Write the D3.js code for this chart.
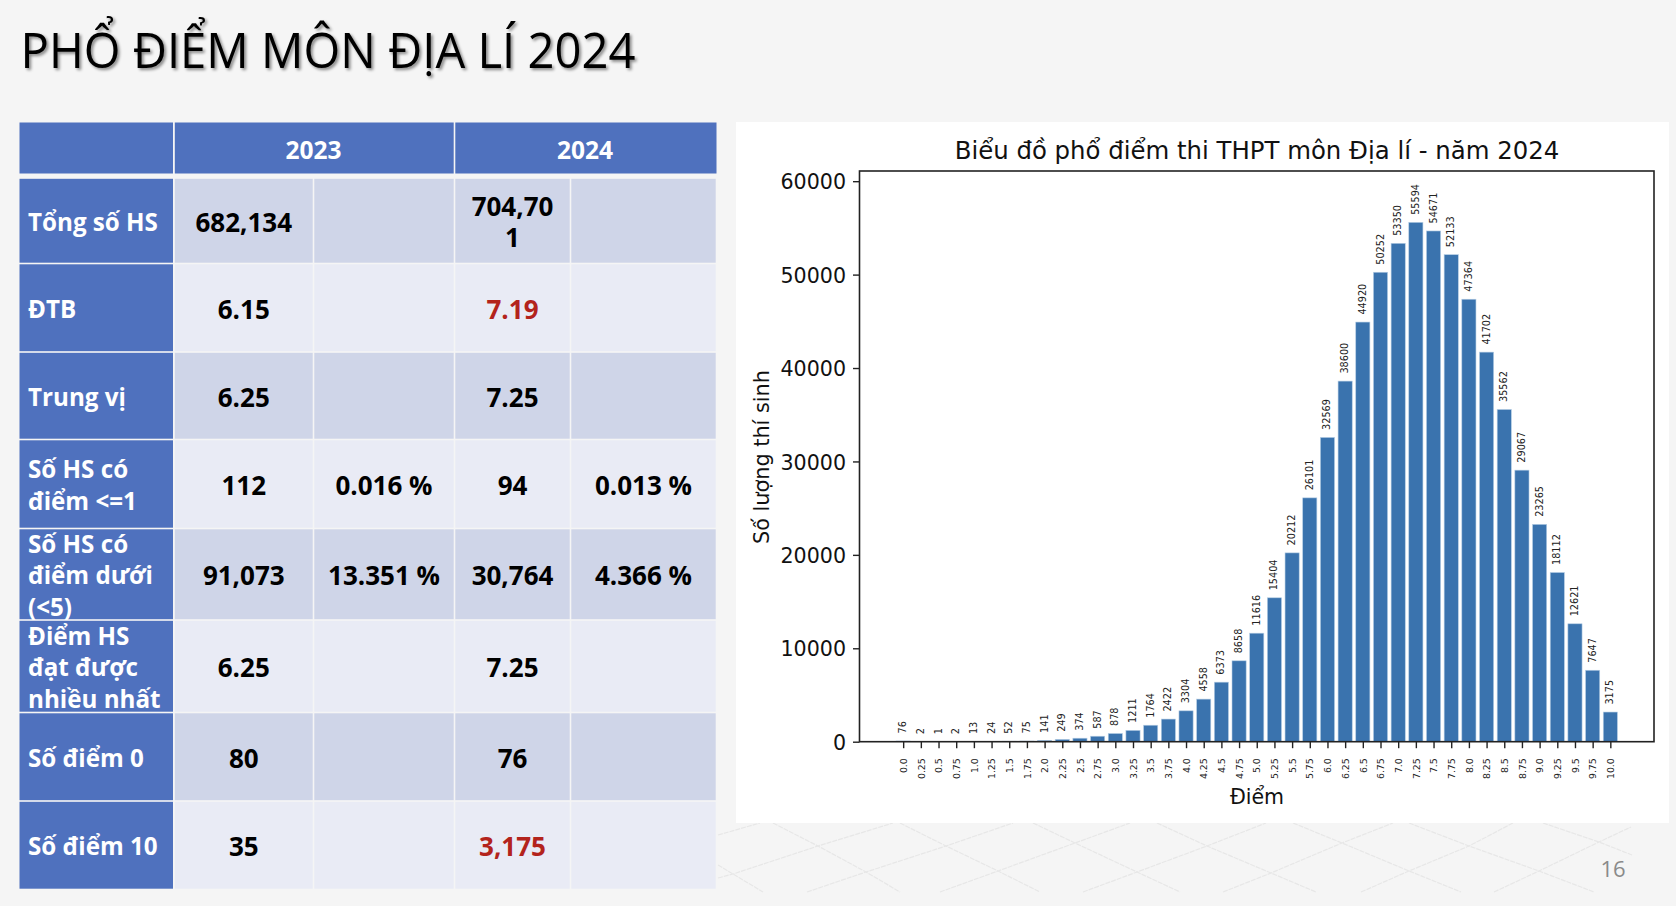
<!DOCTYPE html>
<html><head><meta charset="utf-8">
<script src="https://cdn.jsdelivr.net/npm/d3@7"></script>
<style>html,body{margin:0;background:#f5f5f5;overflow:hidden}svg{display:block}</style>
</head><body><svg id="c" width="1676" height="906"></svg>
<script>
const scores = ["0.0","0.25","0.5","0.75","1.0","1.25","1.5","1.75","2.0","2.25","2.5","2.75","3.0","3.25","3.5","3.75","4.0","4.25","4.5","4.75","5.0","5.25","5.5","5.75","6.0","6.25","6.5","6.75","7.0","7.25","7.5","7.75","8.0","8.25","8.5","8.75","9.0","9.25","9.5","9.75","10.0"];
const counts = [76,2,1,2,13,24,52,75,141,249,374,587,878,1211,1764,2422,3304,4558,6373,8658,11616,15404,20212,26101,32569,38600,44920,50252,53350,55594,54671,52133,47364,41702,35562,29067,23265,18112,12621,7647,3175];
const yTicks = [0,10000,20000,30000,40000,50000,60000];
const rowLabels = [["Tổng số HS"],["ĐTB"],["Trung vị"],["Số HS có","điểm <=1"],["Số HS có","điểm dưới","(<5)"],["Điểm HS","đạt được","nhiều nhất"],["Số điểm 0"],["Số điểm 10"]];
const val2023 = ["682,134","6.15","6.25","112","91,073","6.25","80","35"];
const pct2023 = ["","","","0.016 %","13.351 %","","",""];
const val2024 = [["704,70","1"],["7.19"],["7.25"],["94"],["30,764"],["7.25"],["76"],["3,175"]];
const pct2024 = ["","","","0.013 %","4.366 %","","",""];
const redRows2024 = [1,7];
const headers = ["2023","2024"];

const svg = d3.select("#c");
const ui = "'Open Sans','Noto Sans',sans-serif";

// faint backdrop lattice (decoration)
const lat = svg.append("g").attr("stroke","#e7e7e7").attr("stroke-width",1.2).attr("fill","none").attr("stroke-dasharray","5 1");
[[[718,878],[733,874],[818,846],[893,823]],[[807,892],[866,872],[946,846],[1013,823]],[[940,892],[998,871],[1075,843],[1130,823]],[[1083,892],[1137,872],[1207,846],[1266,823]],[[1223,892],[1271,873],[1342,843],[1393,823]],[[1361,892],[1409,871],[1469,846],[1513,823]],[[1494,892],[1539,871],[1599,842],[1631,827]],[[718,835],[760,823]],
 [[773,823],[818,846],[866,872],[900,892]],[[900,823],[946,846],[998,871],[1040,892]],[[1033,823],[1075,843],[1137,872],[1180,892]],[[1157,823],[1207,846],[1271,873],[1316,892]],[[1293,823],[1342,843],[1409,871],[1461,892]],[[1409,823],[1469,846],[1539,871],[1594,892]],[[1543,823],[1599,842],[1632,855]],[[718,865],[733,874],[763,892]]]
 .forEach(p=>lat.append("path").attr("d",d3.line()(p)));

// slide title
svg.append("text").attr("x",20.5).attr("y",68).attr("font-family",ui).attr("font-size",49)
  .attr("textLength",615).attr("lengthAdjust","spacingAndGlyphs").attr("fill","#000")
  .style("filter","drop-shadow(2px 2px 1.5px rgba(0,0,0,.45))").text("PHỔ ĐIỂM MÔN ĐỊA LÍ 2024");

// table
const colX = [19.5,174,313.5,454.5,570.5,716.5];
const rowY = [178,263.5,352,439.5,528.5,620,712.5,801,889.5];
const blue="#4f71be", dark="#cfd5e8", light="#e9ebf5";
const tb = svg.append("g").attr("font-family",ui).attr("font-weight",700).attr("font-size",26);
const cell=(x0,y0,x1,y1,f)=>tb.append("rect").attr("x",x0).attr("y",y0).attr("width",x1-x0).attr("height",y1-y0).attr("fill",f);
cell(colX[0],122.5,colX[1]-1,173.5,blue); cell(colX[1]+.8,122.5,colX[3]-.8,173.5,blue); cell(colX[3]+.8,122.5,colX[5],173.5,blue);
headers.forEach((h,i)=>tb.append("text").attr("x",i?585:313.5).attr("y",159).attr("text-anchor","middle").attr("fill","#fff").attr("font-size",24.5).text(h));
const ctext=(x,yc,lines,fill)=>{const lh=31.5;lines.forEach((l,k)=>tb.append("text").attr("x",x).attr("y",yc+10.8+(k-(lines.length-1)/2)*lh).attr("text-anchor","middle").attr("fill",fill).text(l));};
rowLabels.forEach((lab,i)=>{
  const y0=rowY[i]+.8,y1=rowY[i+1]-.8,yc=(y0+y1)/2,bg=i%2?light:dark;
  cell(colX[0],y0,colX[1]-1,y1,blue);
  for(let c=1;c<5;c++) cell(colX[c]+.8,y0,colX[c+1]-.8,y1,bg);
  lab.forEach((l,k)=>tb.append("text").attr("x",28).attr("y",yc+10.2+(k-(lab.length-1)/2)*31.5).attr("fill","#fff").attr("font-size",24.2).text(l));
  ctext((colX[1]+colX[2])/2,yc,[val2023[i]],"#000");
  if(pct2023[i]) ctext((colX[2]+colX[3])/2,yc,[pct2023[i]],"#000");
  ctext((colX[3]+colX[4])/2,yc,val2024[i],redRows2024.includes(i)?"#b3231c":"#000");
  if(pct2024[i]) ctext((colX[4]+colX[5])/2,yc,[pct2024[i]],"#000");
});

// chart panel
svg.append("rect").attr("x",736).attr("y",122).attr("width",933).attr("height",701).attr("fill","#fff");
const L=859.5,R=1654,T=171,B=741.7;
const x=d3.scalePoint().domain(scores).range([L,R]).padding(2.47);
const y=d3.scaleLinear().domain([0,61090]).range([B,T]);
const bw=x.step()*0.8;
const g=svg.append("g").attr("font-family","'DejaVu Sans',sans-serif");
g.append("g").selectAll("rect").data(counts).join("rect")
 .attr("x",(d,i)=>x(scores[i])-bw/2).attr("width",bw).attr("y",d=>y(d)).attr("height",d=>B-y(d))
 .attr("fill","#3a73ae").attr("stroke","#b5cde4").attr("stroke-width",.6);
g.append("g").selectAll("text").data(counts).join("text")
 .attr("transform",(d,i)=>`translate(${x(scores[i])+3},${y(d)-7.5}) rotate(-90)`)
 .attr("font-size",9.7).attr("fill","#222").text(d=>d);
const ax=g.append("g").attr("transform",`translate(0,${B})`).call(d3.axisBottom(x).tickSize(6.5).tickPadding(0));
ax.select(".domain").remove();
ax.selectAll(".tick line").attr("stroke","#222").attr("stroke-width",1.4);
ax.selectAll(".tick text").attr("transform","translate(3.2,16.5) rotate(-90)").attr("text-anchor","end").attr("dy",0).attr("y",0).attr("x",0).attr("font-size",9.4).attr("font-family","'DejaVu Sans',sans-serif").attr("fill","#222");
const ay=g.append("g").attr("transform",`translate(${L},0)`).call(d3.axisLeft(y).tickValues(yTicks).tickFormat(d3.format("d")).tickSize(6.5).tickPadding(7));
ay.select(".domain").remove();
ay.selectAll(".tick line").attr("stroke","#222").attr("stroke-width",1.4);
ay.selectAll(".tick text").attr("font-size",20.6).attr("dy","0.37em").attr("font-family","'DejaVu Sans',sans-serif").attr("fill","#111");
g.append("rect").attr("x",L).attr("y",T).attr("width",R-L).attr("height",B-T).attr("fill","none").attr("stroke","#222").attr("stroke-width",1.6);
g.append("text").attr("x",1257).attr("y",159).attr("text-anchor","middle").attr("font-size",24.4).attr("fill","#111").text("Biểu đồ phổ điểm thi THPT môn Địa lí - năm 2024");
g.append("text").attr("x",1257).attr("y",803.5).attr("text-anchor","middle").attr("font-size",20.5).attr("fill","#111").text("Điểm");
g.append("text").attr("transform","translate(769,457) rotate(-90)").attr("text-anchor","middle").attr("font-size",20.8).attr("fill","#111").text("Số lượng thí sinh");
svg.append("text").attr("x",1613).attr("y",877).attr("text-anchor","middle").attr("font-family",ui).attr("font-size",22).attr("fill","#8a8a8a").text("16");
</script></body></html>
